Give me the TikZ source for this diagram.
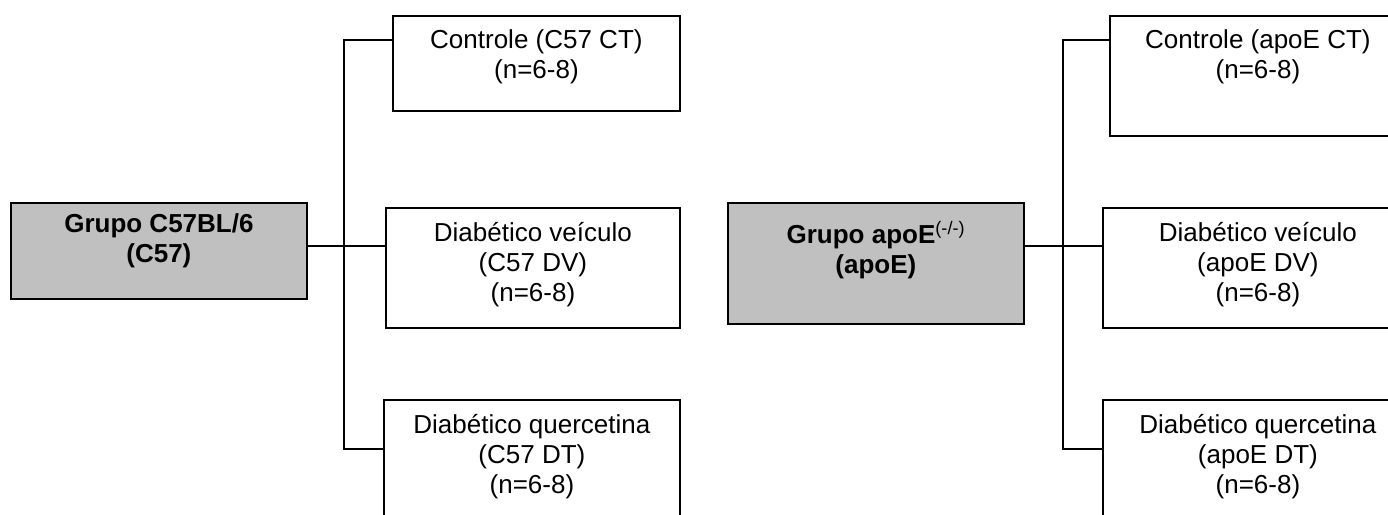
\documentclass[tikz,border=0pt]{standalone}
\usepackage{fontspec}
\setmainfont{Liberation Sans}
\definecolor{cinza}{HTML}{C0C0C0}

\begin{document}
\begin{tikzpicture}[x=1pt,y=-1pt,line width=1.8pt,
  caixa/.style={draw,anchor=north west,inner sep=0pt},
  grupo/.style={caixa,fill=cinza},
  txt/.style={anchor=north,inner sep=0pt,align=center,yshift=-14pt,
    font=\fontsize{26}{30}\selectfont}]

\path[use as bounding box,clip] (0,0) rectangle (1388,514);

% grupo C57
\node[grupo,minimum width=296,minimum height=96,
  label={[txt,yshift=3pt]north:{\bfseries Grupo C57BL/6\\\bfseries (C57)}}]   (c57)   at (10,202)  {};
\node[caixa,minimum width=287,minimum height=95,
  label={[txt]north:{Controle (C57 CT)\\(n=6-8)}}]   (c57ct)   at (392,15)  {};
\node[caixa,minimum width=294,minimum height=120,
  label={[txt]north:{Diabético veículo\\(C57 DV)\\(n=6-8)}}]   (c57dv)   at (385,207)  {};
\node[caixa,minimum width=296,minimum height=120,
  label={[txt]north:{Diabético quercetina\\(C57 DT)\\(n=6-8)}}]   (c57dt)   at (383,399)  {};

% grupo apoE
\node[grupo,minimum width=296,minimum height=121,
  label={[txt,yshift=-4pt]north:{\bfseries Grupo apoE\textsuperscript{\normalfont(-/-)}\\\bfseries (apoE)}}]   (apoe)   at (727,202)  {};
\node[caixa,minimum width=296,minimum height=120,
  label={[txt]north:{Controle (apoE CT)\\(n=6-8)}}]   (apoect)   at (1109,15)  {};
\node[caixa,minimum width=310,minimum height=120,
  label={[txt]north:{Diabético veículo\\(apoE DV)\\(n=6-8)}}]   (apoedv)   at (1102,207)  {};
\node[caixa,minimum width=310,minimum height=120,
  label={[txt]north:{Diabético quercetina\\(apoE DT)\\(n=6-8)}}]   (apoedt)   at (1102,399)  {};

% ligacoes
\coordinate (busC1) at (344,40);
\coordinate (busC2) at (344,449);
\coordinate (busA1) at (1063,40);
\coordinate (busA2) at (1063,449);

\draw ([yshift=5pt]c57.east) -- ([yshift=5pt]c57.east -| c57dv.west);
\draw (c57ct.west |- busC1) -- (busC1) -- (busC2) -- (busC2 -| c57dt.west);
\draw ([yshift=17.5pt]apoe.east) -- ([yshift=17.5pt]apoe.east -| apoedv.west);
\draw (apoect.west |- busA1) -- (busA1) -- (busA2) -- (busA2 -| apoedt.west);

\end{tikzpicture}
\end{document}
